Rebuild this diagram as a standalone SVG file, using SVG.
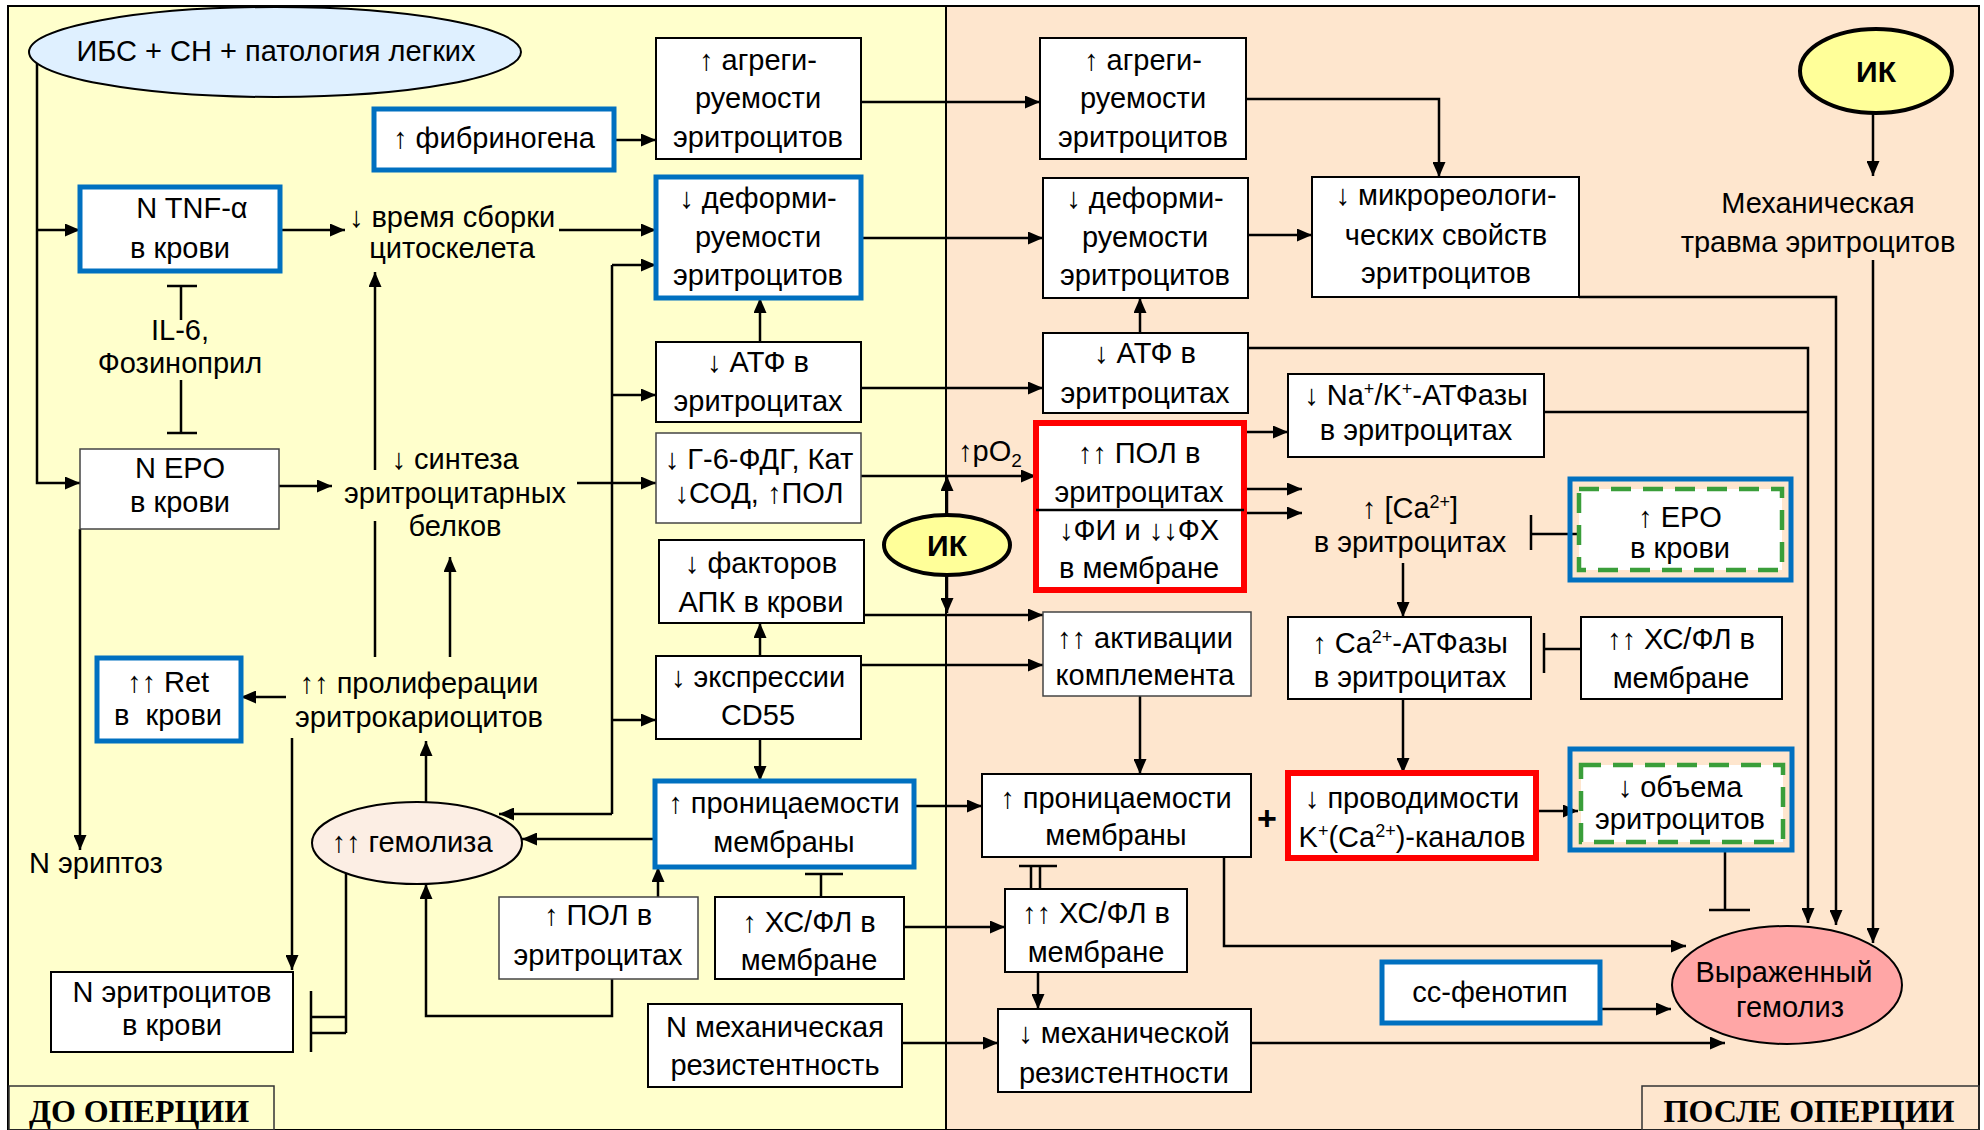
<svg xmlns="http://www.w3.org/2000/svg" width="1984" height="1130" viewBox="0 0 1984 1130">
<defs>
<marker id="ah" markerUnits="userSpaceOnUse" markerWidth="15" markerHeight="13" refX="15" refY="6.5" orient="auto">
<path d="M0,0 L15,6.5 L0,13 z" fill="#000"/>
</marker>
<style>
.t{font-family:"Liberation Sans",Arial,sans-serif;font-size:29px;text-anchor:middle;fill:#000}
.k{font-family:"Liberation Sans",Arial,sans-serif;font-size:30px;font-weight:bold;text-anchor:middle;fill:#000}
.lab{font-family:"Liberation Serif","Times New Roman",serif;font-size:32px;font-weight:bold;text-anchor:middle;fill:#000}
.b{fill:#fff;stroke:#000;stroke-width:2}
.thin{fill:#fff;stroke:#444;stroke-width:1.5}
.blue{fill:#fff;stroke:#0070C0;stroke-width:5}
.blueo{fill:none;stroke:#0070C0;stroke-width:5}
.red{fill:#fff;stroke:#FF0000;stroke-width:6}
.grn{fill:#fff;stroke:#3A9E3A;stroke-width:4.5;stroke-dasharray:20 12}
.c{fill:none;stroke:#000;stroke-width:2.5}
.a{marker-end:url(#ah)}
.ik{fill:#FFFF99;stroke:#000;stroke-width:4}
</style>
</defs>
<g id="background">
<rect x="8" y="6" width="938" height="1124" fill="#FFFFCC"/>
<rect x="946" y="6" width="1033" height="1124" fill="#FEE6CE"/>
<rect x="8" y="6" width="1971" height="1124" fill="none" stroke="#000" stroke-width="2"/>
<line x1="946" y1="6" x2="946" y2="1130" stroke="#000" stroke-width="2"/>
</g>
<g id="connectors">
<path class="c a" d="M37,55 V483 H80"/>
<path class="c a" d="M37,230 H80"/>
<path class="c" d="M181,320 V286 M167,286 H197 M181,380 V433 M167,433 H197"/>
<path class="c a" d="M80,529 V850"/>
<path class="c a" d="M280,230 H345"/>
<path class="c a" d="M559,230 H656"/>
<path class="c a" d="M279,486 H332"/>
<path class="c a" d="M577,483 H656"/>
<path class="c" d="M612,265 V814"/>
<path class="c a" d="M612,265 H656"/>
<path class="c a" d="M612,395 H656"/>
<path class="c a" d="M612,720 H656"/>
<path class="c a" d="M612,814 H499"/>
<path class="c" d="M375,657 V521"/>
<path class="c a" d="M375,470 V272"/>
<path class="c a" d="M450,657 V557"/>
<path class="c a" d="M286,697 H241"/>
<path class="c a" d="M292,738 V970"/>
<path class="c a" d="M426,802 V741"/>
<path class="c a" d="M655,839 H522"/>
<path class="c a" d="M612,979 V1016 H426 V884"/>
<path class="c" d="M346,864 V1033 M346,1017 H311 M346,1033 H311 M311,991 V1052"/>
<path class="c a" d="M614,140 H656"/>
<path class="c a" d="M861,102 H1040"/>
<path class="c a" d="M861,238 H1043"/>
<path class="c a" d="M760,342 V298"/>
<path class="c a" d="M861,388 H1043"/>
<path class="c a" d="M861,476 H1036"/>
<path class="c a" d="M947,515 V476"/>
<path class="c a" d="M947,574 V613"/>
<path class="c a" d="M864,615 H1043"/>
<path class="c a" d="M760,656 V623"/>
<path class="c a" d="M861,665 H1043"/>
<path class="c a" d="M760,739 V781"/>
<path class="c a" d="M914,806 H982"/>
<path class="c a" d="M658,897 V867"/>
<path class="c" d="M821,897 V874 M805,874 H843"/>
<path class="c a" d="M904,927 H1005"/>
<path class="c a" d="M902,1043 H998"/>
<path class="c a" d="M1246,99 H1439 V177"/>
<path class="c a" d="M1248,235 H1312"/>
<path class="c a" d="M1140,333 V298"/>
<path class="c a" d="M1248,348 H1808 V923"/>
<path class="c" d="M1544,412 H1808"/>
<path class="c a" d="M1579,297 H1836 V925"/>
<path class="c a" d="M1873,113 V176"/>
<path class="c a" d="M1873,260 V943"/>
<path class="c a" d="M1244,432 H1288"/>
<path class="c a" d="M1244,489 H1302"/>
<path class="c a" d="M1244,513 H1302"/>
<path class="c" d="M1583,534 H1531 M1531,515 V550"/>
<path class="c a" d="M1403,563 V617"/>
<path class="c" d="M1581,649 H1544 M1544,633 V673"/>
<path class="c a" d="M1403,699 V773"/>
<path class="c a" d="M1140,696 V774"/>
<path class="c a" d="M1536,811 H1578"/>
<path class="c" d="M1725,850 V910 M1709,910 H1750"/>
<path class="c a" d="M1224,857 V946 H1686"/>
<path class="c" d="M1019,866 H1057 M1031,866 V889 M1040,866 V889"/>
<path class="c a" d="M1038,972 V1009"/>
<path class="c a" d="M1251,1043 H1725"/>
<path class="c a" d="M1600,1009 H1671"/>
</g>
<g id="n_ibs"><ellipse cx="275" cy="52" rx="246" ry="45" fill="#DFF0FF" stroke="#000" stroke-width="2"/><text class="t" x="276" y="61">ИБС + СН + патология легких</text></g>
<g id="n_tnf"><rect class="blue" x="80" y="187" width="200" height="84"/><text class="t" x="192" y="218">N TNF-α</text><text class="t" x="180" y="258">в крови</text></g>
<g id="n_il6"><text class="t" x="180" y="340">IL-6,</text><text class="t" x="180" y="373">Фозиноприл</text></g>
<g id="n_epo"><rect class="thin" x="80" y="449" width="199" height="80"/><text class="t" x="180" y="478">N EPO</text><text class="t" x="180" y="512">в крови</text></g>
<g id="n_eriptoz"><text class="t" x="29" y="873" style="text-anchor:start">N эриптоз</text></g>
<g id="n_ret"><rect class="blue" x="97" y="658" width="144" height="83"/><text class="t" x="168" y="692">↑↑ Ret</text><text class="t" x="168" y="725" xml:space="preserve">в  крови</text></g>
<g id="n_nerit"><rect class="b" x="51" y="972" width="242" height="80"/><text class="t" x="172" y="1002">N эритроцитов</text><text class="t" x="172" y="1035">в крови</text></g>
<g id="n_vremya"><text class="t" x="452" y="227">↓ время сборки</text><text class="t" x="452" y="258">цитоскелета</text></g>
<g id="n_sintez"><text class="t" x="455" y="469">↓ синтеза</text><text class="t" x="455" y="503">эритроцитарных</text><text class="t" x="455" y="536">белков</text></g>
<g id="n_prolif"><text class="t" x="419" y="693">↑↑ пролиферации</text><text class="t" x="419" y="727">эритрокариоцитов</text></g>
<g id="n_gemoliz"><ellipse cx="417" cy="843" rx="105" ry="41" fill="#FCEEE4" stroke="#000" stroke-width="2"/><text class="t" x="412" y="852">↑↑ гемолиза</text></g>
<g id="n_fibr"><rect class="blue" x="374" y="109" width="240" height="61"/><text class="t" x="494" y="148">↑ фибриногена</text></g>
<g id="n_agr1"><rect class="b" x="656" y="38" width="205" height="121"/><text class="t" x="758" y="70">↑ агреги-</text><text class="t" x="758" y="108">руемости</text><text class="t" x="758" y="147">эритроцитов</text></g>
<g id="n_def1"><rect class="blue" x="656" y="177" width="205" height="121"/><text class="t" x="758" y="208">↓ деформи-</text><text class="t" x="758" y="247">руемости</text><text class="t" x="758" y="285">эритроцитов</text></g>
<g id="n_atf1"><rect class="b" x="656" y="342" width="205" height="80"/><text class="t" x="758" y="372">↓ АТФ в</text><text class="t" x="758" y="411">эритроцитах</text></g>
<g id="n_g6"><rect class="thin" x="656" y="433" width="205" height="90"/><text class="t" x="759" y="469">↓ Г-6-ФДГ, Кат</text><text class="t" x="759" y="503">↓СОД, ↑ПОЛ</text></g>
<g id="n_ik1"><ellipse class="ik" cx="947" cy="545" rx="63" ry="30"/><text class="k" x="947" y="556">ИК</text></g>
<g id="n_po2"><text class="t" x="958" y="461" style="text-anchor:start">↑pO<tspan dy="6" font-size="19">2</tspan></text></g>
<g id="n_apk"><rect class="b" x="659" y="540" width="205" height="83"/><text class="t" x="761" y="573">↓ факторов</text><text class="t" x="761" y="612">АПК в крови</text></g>
<g id="n_cd55"><rect class="b" x="656" y="656" width="205" height="83"/><text class="t" x="758" y="687">↓ экспрессии</text><text class="t" x="758" y="725">CD55</text></g>
<g id="n_pron1"><rect class="blue" x="655" y="781" width="259" height="86"/><text class="t" x="784" y="813">↑ проницаемости</text><text class="t" x="784" y="852">мембраны</text></g>
<g id="n_pol1"><rect class="thin" x="499" y="897" width="199" height="82"/><text class="t" x="598" y="925">↑ ПОЛ в</text><text class="t" x="598" y="965">эритроцитах</text></g>
<g id="n_xc1"><rect class="b" x="715" y="897" width="189" height="82"/><text class="t" x="809" y="932">↑ ХС/ФЛ в</text><text class="t" x="809" y="970">мембране</text></g>
<g id="n_mech1"><rect class="b" x="648" y="1004" width="254" height="83"/><text class="t" x="775" y="1037">N механическая</text><text class="t" x="775" y="1075">резистентность</text></g>
<g id="n_agr2"><rect class="b" x="1040" y="38" width="206" height="121"/><text class="t" x="1143" y="70">↑ агреги-</text><text class="t" x="1143" y="108">руемости</text><text class="t" x="1143" y="147">эритроцитов</text></g>
<g id="n_def2"><rect class="b" x="1043" y="178" width="205" height="120"/><text class="t" x="1145" y="208">↓ деформи-</text><text class="t" x="1145" y="247">руемости</text><text class="t" x="1145" y="285">эритроцитов</text></g>
<g id="n_micro"><rect class="b" x="1312" y="177" width="267" height="120"/><text class="t" x="1446" y="205">↓ микрореологи-</text><text class="t" x="1446" y="245">ческих свойств</text><text class="t" x="1446" y="283">эритроцитов</text></g>
<g id="n_atf2"><rect class="b" x="1043" y="333" width="205" height="80"/><text class="t" x="1145" y="363">↓ АТФ в</text><text class="t" x="1145" y="403">эритроцитах</text></g>
<g id="n_nak"><rect class="b" x="1288" y="374" width="256" height="83"/><text class="t" x="1416" y="405">↓ Na<tspan dy="-10" font-size="18">+</tspan><tspan dy="10">/K</tspan><tspan dy="-10" font-size="18">+</tspan><tspan dy="10">-АТФазы</tspan></text><text class="t" x="1416" y="440">в эритроцитах</text></g>
<g id="n_pol2"><rect class="red" x="1036" y="423" width="208" height="167"/><line x1="1036" y1="510" x2="1244" y2="510" stroke="#000" stroke-width="2.5"/><text class="t" x="1139" y="463">↑↑ ПОЛ в</text><text class="t" x="1139" y="502">эритроцитах</text><text class="t" x="1139" y="540">↓ФИ и ↓↓ФХ</text><text class="t" x="1139" y="578">в мембране</text></g>
<g id="n_ca"><text class="t" x="1410" y="518">↑ [Ca<tspan dy="-10" font-size="18">2+</tspan><tspan dy="10">]</tspan></text><text class="t" x="1410" y="552">в эритроцитах</text></g>
<g id="n_epo2"><rect class="blueo" x="1570" y="479" width="221" height="101"/><rect class="grn" x="1579" y="489" width="203" height="81"/><text class="t" x="1680" y="527">↑ EPO</text><text class="t" x="1680" y="558">в крови</text></g>
<g id="n_caatp"><rect class="b" x="1288" y="617" width="243" height="82"/><text class="t" x="1410" y="653">↑ Ca<tspan dy="-10" font-size="18">2+</tspan><tspan dy="10">-АТФазы</tspan></text><text class="t" x="1410" y="687">в эритроцитах</text></g>
<g id="n_xc2"><rect class="b" x="1581" y="617" width="201" height="82"/><text class="t" x="1681" y="649">↑↑ ХС/ФЛ в</text><text class="t" x="1681" y="688">мембране</text></g>
<g id="n_activ"><rect class="thin" x="1043" y="612" width="208" height="84"/><text class="t" x="1145" y="648">↑↑ активации</text><text class="t" x="1145" y="685">комплемента</text></g>
<g id="n_pron2"><rect class="b" x="982" y="774" width="269" height="83"/><text class="t" x="1116" y="808">↑ проницаемости</text><text class="t" x="1116" y="845">мембраны</text></g>
<g id="n_plus"><text class="k" x="1267" y="830" style="font-size:34px">+</text></g>
<g id="n_prov"><rect class="red" x="1288" y="773" width="248" height="85"/><text class="t" x="1412" y="808">↓ проводимости</text><text class="t" x="1412" y="847">K<tspan dy="-10" font-size="18">+</tspan><tspan dy="10">(Ca</tspan><tspan dy="-10" font-size="18">2+</tspan><tspan dy="10">)-каналов</tspan></text></g>
<g id="n_vol"><rect class="blueo" x="1570" y="749" width="222" height="101"/><rect class="grn" x="1581" y="765" width="202" height="77"/><text class="t" x="1680" y="797">↓ объема</text><text class="t" x="1680" y="829">эритроцитов</text></g>
<g id="n_xc3"><rect class="b" x="1005" y="889" width="182" height="83"/><text class="t" x="1096" y="923">↑↑ ХС/ФЛ в</text><text class="t" x="1096" y="962">мембране</text></g>
<g id="n_mech2"><rect class="b" x="998" y="1009" width="253" height="83"/><text class="t" x="1124" y="1043">↓ механической</text><text class="t" x="1124" y="1083">резистентности</text></g>
<g id="n_cc"><rect class="blue" x="1382" y="962" width="218" height="61"/><text class="t" x="1490" y="1002">сс-фенотип</text></g>
<g id="n_vyr"><ellipse cx="1787" cy="985" rx="115" ry="59" fill="#FFA6A6" stroke="#000" stroke-width="2"/><text class="t" x="1784" y="982">Выраженный</text><text class="t" x="1790" y="1017">гемолиз</text></g>
<g id="n_ik2"><ellipse class="ik" cx="1876" cy="71" rx="76" ry="42"/><text class="k" x="1876" y="82">ИК</text></g>
<g id="n_trauma"><text class="t" x="1818" y="213">Механическая</text><text class="t" x="1818" y="252">травма эритроцитов</text></g>
<g id="labels"><rect x="9" y="1086" width="265" height="44" fill="none" stroke="#333" stroke-width="1.5"/><text class="lab" x="139" y="1122">ДО ОПЕРЦИИ</text><rect x="1642" y="1086" width="337" height="44" fill="none" stroke="#333" stroke-width="1.5"/><text class="lab" x="1809" y="1122">ПОСЛЕ ОПЕРЦИИ</text></g>
</svg>
